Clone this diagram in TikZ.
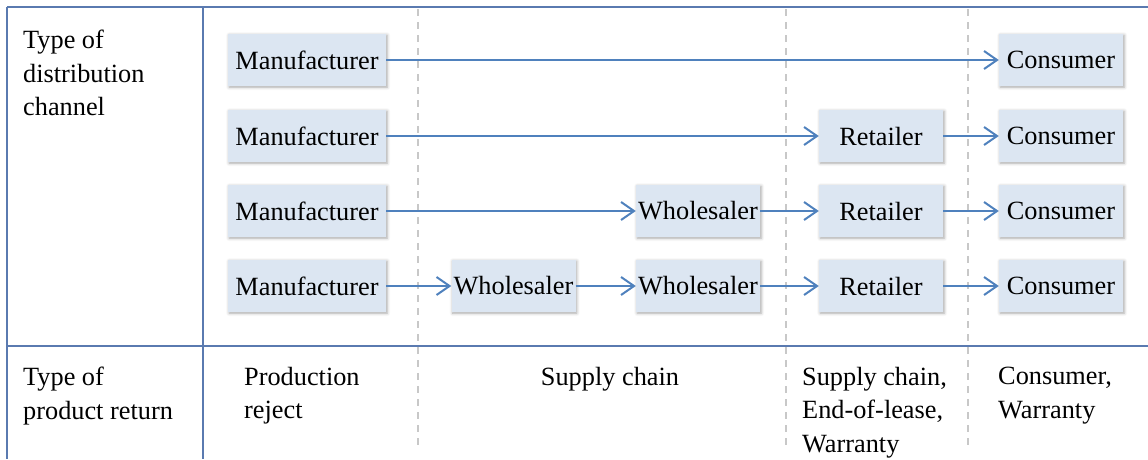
\documentclass[tikz,border=0pt]{standalone}
\usepackage{fontspec}
\setmainfont{Liberation Serif}
\usetikzlibrary{arrows.meta,shadows.blur}

\definecolor{boxfill}{HTML}{DCE6F2}
\definecolor{flowblue}{HTML}{4F81BD}
\definecolor{rulecol}{HTML}{5A7AB0}
\definecolor{dashgray}{HTML}{C8C8C8}

\tikzset{
  stage/.style={fill=boxfill, draw=none, minimum width=124pt, minimum height=52pt,
    inner xsep=2pt, inner ysep=0pt,
    blur shadow={shadow xshift=1.2pt, shadow yshift=-1.2pt, shadow blur radius=3pt, shadow opacity=35}},
  maker/.style={stage, minimum width=158pt},
  flow/.style={draw=flowblue, line width=2pt, -{Straight Barb[length=13pt,width=18pt,line width=2pt]}},
  rule/.style={draw=rulecol, line width=1.4pt},
  divider/.style={draw=dashgray, line width=1.5pt, dash pattern=on 7pt off 6pt},
  label/.style={anchor=north west, inner sep=0pt, align=left, font=\fontsize{26.3}{33.5}\selectfont}
}

\begin{document}
\begin{tikzpicture}[x=1pt, y=-1pt, font=\fontsize{26.3}{33.5}\selectfont]
\useasboundingbox (0,0) rectangle (1148,459);

% table frame
\coordinate (tl) at (7,7);
\coordinate (tr) at (1148,7);
\coordinate (bl) at (7,459);
\coordinate (ml) at (7,346);
\coordinate (mr) at (1148,346);
\coordinate (ct) at (203,7);
\coordinate (cb) at (203,459);
\draw[rule] (tl) -- (tr);
\draw[rule] (tl) -- (bl);
\draw[rule] (ct) -- (cb);
\draw[rule] (ml) -- (mr);

% stage separators
\foreach \x in {418,786,968}{
  \coordinate (dt\x) at (\x,9);
  \coordinate (db\x) at (\x,446);
  \draw[divider] (dt\x) -- (db\x);
}

% row headings
\node[label] (hdist) at (23,30) {Type of\\distribution\\channel};
\node[label] (hret) at (23,367) {Type of\\product return};

% return types
\node[label] (rprod) at (244,367) {Production\\reject};
\node[anchor=north, inner sep=0pt] (rsup) at (610,367) {Supply chain};
\node[label] (rend) at (802,367) {Supply chain,\\End-of-lease,\\Warranty};
\node[label] (rcons) at (998,367) {Consumer,\\Warranty};

% channel 1: direct
\node[maker] (m1) at (307,60) {Manufacturer};
\node[stage] (c1) at (1061,60) {Consumer};

% channel 2: via retailer
\node[maker] (m2) at (307,136) {Manufacturer};
\node[stage] (r2) at (881,136) {Retailer};
\node[stage] (c2) at (1061,136) {Consumer};

% channel 3: wholesaler and retailer
\node[maker] (m3) at (307,211) {Manufacturer};
\node[stage] (w3) at (698,211) {Wholesaler};
\node[stage] (r3) at (881,211) {Retailer};
\node[stage] (c3) at (1061,211) {Consumer};

% channel 4: two wholesalers and retailer
\node[maker] (m4) at (307,286) {Manufacturer};
\node[stage] (wa4) at (513.5,286) {Wholesaler};
\node[stage] (wb4) at (698,286) {Wholesaler};
\node[stage] (r4) at (881,286) {Retailer};
\node[stage] (c4) at (1061,286) {Consumer};

% flows
\draw[flow] (m1) -- (c1);
\draw[flow] (m2) -- (r2);
\draw[flow] (r2) -- (c2);
\draw[flow] (m3) -- (w3);
\draw[flow] (w3) -- (r3);
\draw[flow] (r3) -- (c3);
\draw[flow] (m4) -- (wa4);
\draw[flow] (wa4) -- (wb4);
\draw[flow] (wb4) -- (r4);
\draw[flow] (r4) -- (c4);
\end{tikzpicture}
\end{document}
